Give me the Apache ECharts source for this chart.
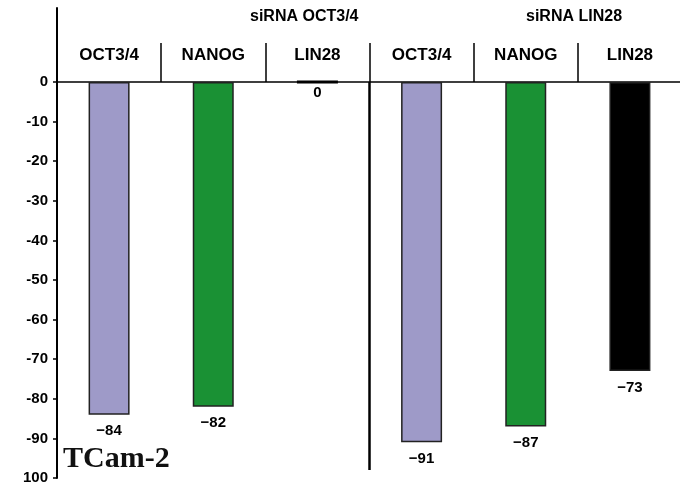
<!DOCTYPE html>
<html>
<head>
<meta charset="utf-8">
<script src="https://cdn.jsdelivr.net/npm/echarts@6/dist/echarts.min.js"></script>
<style>
html, body { margin: 0; padding: 0; background: #fff; }
#chart { width: 680px; height: 486px; }
</style>
</head>
<body>
<div id="chart"></div>
<script>
// knockdown targets (x categories) and % change values
var categories = ['OCT3/4', 'NANOG', 'LIN28', 'OCT3/4', 'NANOG', 'LIN28'];
var values = [-84, -82, 0, -91, -87, -73];
var groupTitles = ['siRNA OCT3/4', 'siRNA LIN28'];
var yTicks = [0, -10, -20, -30, -40, -50, -60, -70, -80, -90, -100];
var yTickLabels = ['0', '-10', '-20', '-30', '-40', '-50', '-60', '-70', '-80', '-90', '100'];
var cellLine = 'TCam-2';

var barColors = ['#9e9ac8', '#1a9134', '#000000', '#9e9ac8', '#1a9134', '#000000'];
var sans = 'Liberation Sans, Arial, sans-serif';

var yMax = 18.7; // space above zero so the y axis line runs up to the top
var myChart = echarts.init(document.getElementById('chart'));

var option = {
    animation: false,
    grid: { left: 57, right: -2, top: 8, bottom: 8, outerBoundsMode: 'none', containLabel: false },
    xAxis: [
        {
            type: 'category',
            position: 'top',
            offset: -Math.round(470 * yMax / (yMax + 100)),
            data: categories,
            axisLine: { onZero: false, lineStyle: { color: '#000', width: 1.5 } },
            axisTick: { show: true, inside: false, length: 39, interval: 0, lineStyle: { color: '#000', width: 1.5 } },
            axisLabel: { margin: 18, interval: 0, color: '#000', fontSize: 17, fontWeight: 'bold', fontFamily: sans }
        },
        { type: 'value', min: 0, max: 6, show: false }
    ],
    yAxis: {
        type: 'value',
        min: -100,
        max: yMax,
        interval: 10,
        splitLine: { show: false },
        axisLine: { show: true, onZero: false, lineStyle: { color: '#000', width: 2 } },
        axisTick: { show: true, length: 4, customValues: yTicks, lineStyle: { color: '#000', width: 1.5 } },
        axisLabel: {
            margin: 9,
            customValues: yTicks,
            color: '#000',
            fontSize: 15,
            fontWeight: 'bold',
            fontFamily: sans,
            formatter: function (v) {
                var i = yTicks.indexOf(v);
                return i >= 0 ? yTickLabels[i] : '';
            }
        }
    },
    graphic: [
        { type: 'text', left: 250, top: 9, style: { text: groupTitles[0], fill: '#000', font: 'bold 16px ' + sans } },
        { type: 'text', left: 526, top: 9, style: { text: groupTitles[1], fill: '#000', font: 'bold 16px ' + sans } },
        { type: 'text', left: 63, top: 444, style: { text: cellLine, fill: '#111', font: 'bold 30px "Liberation Serif", "Times New Roman", serif' } }
    ],
    series: [
        {
            type: 'bar',
            barWidth: 41,
            data: values.map(function (v, i) {
                var d = { value: v, itemStyle: { color: barColors[i] } };
                if (v === 0) {
                    d.itemStyle.borderColor = '#000';
                    d.itemStyle.borderWidth = 3;
                    d.label = { distance: 2 };
                }
                return d;
            }),
            itemStyle: { borderColor: '#222', borderWidth: 1.5 },
            label: {
                show: true,
                position: 'bottom',
                distance: 9,
                color: '#000',
                fontSize: 15,
                fontWeight: 'bold',
                fontFamily: sans,
                formatter: function (p) {
                    return String(p.value).replace('-', '\u2212');
                }
            }
        },
        {
            type: 'line',
            xAxisIndex: 1,
            data: [],
            markLine: {
                silent: true,
                symbol: 'none',
                label: { show: false },
                lineStyle: { color: '#000', width: 2.5, type: 'solid' },
                data: [[{ coord: [3, 0] }, { coord: [3, -98] }]]
            }
        }
    ]
};
myChart.setOption(option);
</script>
</body>
</html>
